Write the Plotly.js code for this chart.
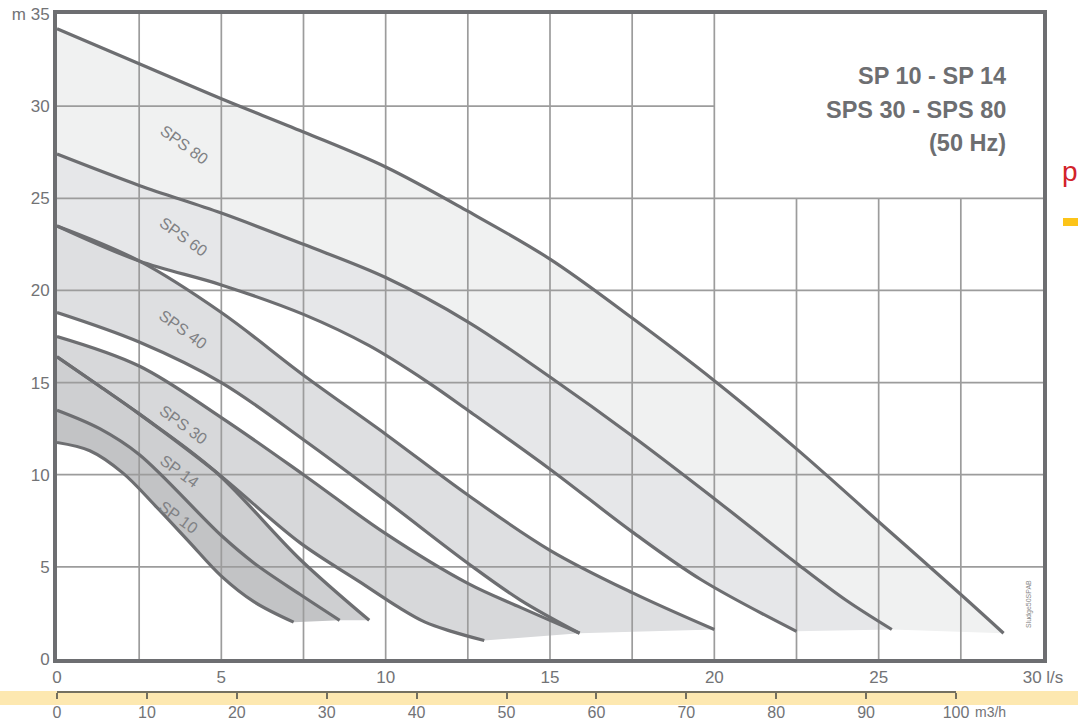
<!DOCTYPE html>
<html><head><meta charset="utf-8">
<script src="https://cdn.plot.ly/plotly-3.0.1.min.js"></script>
<style>html,body{margin:0;padding:0;background:#fff}#chart{width:1078px;height:722px}</style>
</head><body><div id="chart"></div>
<script>
// ---- Data: flow Q (l/s) and head H (m) ----
const sps80MaxQ = [0, 2.5, 5, 7.5, 10, 12.5, 15, 17.5, 20, 22.5, 25, 27.5, 28.8];
const sps80MaxH = [34.2, 32.3, 30.4, 28.6, 26.7, 24.3, 21.7, 18.5, 15.1, 11.4, 7.45, 3.5, 1.4];
const sps80MinQ = [0, 2.5, 5, 7.5, 10, 12.5, 15, 17.5, 20, 22.5, 24, 25.4];
const sps80MinH = [27.4, 25.7, 24.2, 22.5, 20.7, 18.3, 15.3, 12.1, 8.7, 5.2, 3.2, 1.6];
const sps60MaxQ = sps80MinQ;
const sps60MaxH = sps80MinH;
const sps60MinQ = [0, 2.5, 5, 7.5, 9.5, 11.3, 12.5, 15, 17.5, 19.6, 22.5];
const sps60MinH = [23.5, 21.6, 20.3, 18.7, 17.0, 15.0, 13.5, 10.3, 6.9, 4.3, 1.5];
const sps40MaxQ = [0, 2.5, 5, 7.5, 10, 12.5, 15, 17.5, 20];
const sps40MaxH = [23.5, 21.6, 18.8, 15.4, 12.2, 8.9, 5.9, 3.6, 1.6];
const sps40MinQ = [0, 2.5, 5, 7.5, 10, 12.5, 14.1, 15.9];
const sps40MinH = [18.8, 17.2, 15.0, 11.9, 8.6, 5.2, 3.2, 1.4];
const sps30MaxQ = [0, 2.5, 5, 7.5, 10, 12.5, 14.1, 15.9];
const sps30MaxH = [17.5, 15.9, 13.1, 10.0, 6.8, 4.1, 2.8, 1.4];
const sps30MinQ = [0, 1.3, 2.5, 4.8, 7.4, 9.2, 10.4, 11.2, 12.0, 13.0];
const sps30MinH = [16.4, 14.8, 13.3, 10.2, 6.3, 4.2, 2.8, 2.0, 1.5, 1.0];
const sp14MaxQ = [0, 1.3, 2.5, 4.8, 7.4, 9.5];
const sp14MaxH = [16.4, 14.8, 13.3, 10.2, 5.4, 2.1];
const sp14MinQ = [0, 1.3, 2.5, 5, 6, 7.4, 8.6];
const sp14MinH = [13.5, 12.5, 11.1, 6.7, 5.2, 3.5, 2.1];
const sp10MaxQ = sp14MinQ;
const sp10MaxH = sp14MinH;
const sp10MinQ = [0, 1, 2, 3, 4, 5, 6, 7.2];
const sp10MinH = [11.75, 11.3, 10.1, 8.3, 6.4, 4.5, 3.1, 2.0];

const pumpNames = ['SPS 80', 'SPS 60', 'SPS 40', 'SPS 30', 'SP 14', 'SP 10'];

// ---- Axis ticks ----
const qTicks = [0, 5, 10, 15, 20, 25, 30];
const qTickText = ['0', '5', '10', '15', '20', '25', '30 l/s'];
const hTicks = [0, 5, 10, 15, 20, 25, 30, 35];
const hTickText = ['0', '5', '10', '15', '20', '25', '30', 'm 35'];
const m3hTicks = [0, 10, 20, 30, 40, 50, 60, 70, 80, 90, 100];
const m3hTickText = ['0', '10', '20', '30', '40', '50', '60', '70', '80', '90', '100'];
const gridQ = [2.5, 5, 7.5, 10, 12.5, 15, 17.5, 20, 22.5, 25, 27.5];
const gridH = [5, 10, 15, 20, 25, 30];

// ---- Styles ----
const bandColors = ['#f0f1f1', '#e6e7e9', '#dedfe1', '#d7d8da', '#cecfd1', '#c2c3c5'];
const curveColor = '#6d6e71';
const gridColor = '#9c9c9c';
const textGrey = '#727376';
const FONT = '"Liberation Sans", Arial, Helvetica, sans-serif';

const bands = [
  [sps80MaxQ, sps80MaxH, sps80MinQ, sps80MinH],
  [sps60MaxQ, sps60MaxH, sps60MinQ, sps60MinH],
  [sps40MaxQ, sps40MaxH, sps40MinQ, sps40MinH],
  [sps30MaxQ, sps30MaxH, sps30MinQ, sps30MinH],
  [sp14MaxQ, sp14MaxH, sp14MinQ, sp14MinH],
  [sp10MaxQ, sp10MaxH, sp10MinQ, sp10MinH]
];

const traces = [];
// band fills
bands.forEach((b, i) => {
  traces.push({x: b[2], y: b[3], mode: 'lines', line: {width: 0, shape: 'spline', smoothing: 1},
    hoverinfo: 'skip', showlegend: false});
  traces.push({x: b[0], y: b[1], mode: 'lines', line: {width: 0, shape: 'spline', smoothing: 1},
    fill: 'tonexty', fillcolor: bandColors[i], hoverinfo: 'skip', showlegend: false, name: pumpNames[i]});
});
// grid (no grid inside the title box: Q > 20 and H > 25)
const gx = [], gy = [];
gridQ.forEach(q => { gx.push(q, q, null); gy.push(0, q > 20 ? 25 : 35, null); });
gridH.forEach(h => { gx.push(0, h > 25 ? 20 : 30, null); gy.push(h, h, null); });
traces.push({x: gx, y: gy, mode: 'lines', line: {color: gridColor, width: 1.7},
  hoverinfo: 'skip', showlegend: false, connectgaps: false});
// curves
const curves = [
  [sps80MaxQ, sps80MaxH], [sps80MinQ, sps80MinH], [sps60MinQ, sps60MinH],
  [sps40MaxQ, sps40MaxH], [sps40MinQ, sps40MinH], [sps30MaxQ, sps30MaxH],
  [sps30MinQ, sps30MinH], [sp14MaxQ, sp14MaxH], [sp14MinQ, sp14MinH], [sp10MinQ, sp10MinH]
];
curves.forEach(c => traces.push({x: c[0], y: c[1], mode: 'lines',
  line: {color: curveColor, width: 3.2, shape: 'spline', smoothing: 1},
  hoverinfo: 'skip', showlegend: false}));
// secondary m3/h axis carrier
traces.push({x: [0], y: [null], xaxis: 'x2', yaxis: 'y', mode: 'lines', hoverinfo: 'skip', showlegend: false});

// ---- Layout geometry (px -> paper) ----
const W = 1078, H = 722, mL = 57, mR = 35, mT = 14, mB = 30;
const pw = W - mL - mR, ph = H - mT - mB;
const px = v => (v - mL) / pw;
const py = v => (H - mB - v) / ph;

const labelPos = [[3.86, 27.9], [3.83, 22.9], [3.83, 17.9], [3.83, 12.7], [3.74, 10.2], [3.71, 7.7]];
const annotations = pumpNames.map((n, i) => ({
  x: labelPos[i][0], y: labelPos[i][1], xref: 'x', yref: 'y', text: n, showarrow: false,
  textangle: 36, font: {family: FONT, size: 16, color: '#808184'}
}));
[['SP 10 - SP 14', 76], ['SPS 30 - SPS 80', 110], ['(50 Hz)', 143]].forEach(t => annotations.push({
  x: px(1008), y: py(t[1]), xref: 'paper', yref: 'paper', xanchor: 'right', yanchor: 'middle',
  text: '<b>' + t[0] + '</b>', showarrow: false, font: {family: FONT, size: 23.5, color: '#6d6e71'}
}));
annotations.push({x: px(973), y: py(712), xref: 'paper', yref: 'paper', xanchor: 'left', yanchor: 'middle',
  text: 'm3/h', showarrow: false, font: {family: FONT, size: 14, color: textGrey}});
annotations.push({x: px(1035), y: py(630), xref: 'paper', yref: 'paper', text: 'Sludge50SPAB',
  showarrow: false, textangle: -90, font: {family: FONT, size: 7, color: '#8a8a8a'}});
annotations.push({x: px(1060), y: py(172), xref: 'paper', yref: 'paper', xanchor: 'left', yanchor: 'middle',
  text: 'p', showarrow: false, font: {family: FONT, size: 28, color: '#d2232a'}});

const shapes = [
  {type: 'rect', xref: 'paper', yref: 'paper', x0: px(0), x1: px(W), y0: py(705), y1: py(691),
   fillcolor: '#fde8b0', line: {width: 0}, layer: 'below'},
  {type: 'rect', xref: 'paper', yref: 'paper', x0: px(1063), x1: px(W + 5), y0: py(226), y1: py(218),
   fillcolor: '#fcc419', line: {width: 0}, layer: 'above'}
];

const axisFont = {family: FONT, size: 17, color: textGrey};
const layout = {
  width: W, height: H,
  margin: {l: mL, r: mR, t: mT, b: mB, pad: 0},
  paper_bgcolor: '#ffffff', plot_bgcolor: 'rgba(0,0,0,0)',
  showlegend: false, hovermode: false,
  xaxis: {range: [0, 30], tickvals: qTicks, ticktext: qTickText, showgrid: false, zeroline: false,
    showline: true, mirror: true, linecolor: curveColor, linewidth: 4, ticks: '', tickfont: axisFont,
    fixedrange: true, anchor: 'y'},
  yaxis: {range: [0, 35], domain: [py(659), 1], tickvals: hTicks, ticktext: hTickText, showgrid: false,
    zeroline: false, showline: true, mirror: true, linecolor: curveColor, linewidth: 4, ticks: '',
    tickfont: axisFont, fixedrange: true},
  xaxis2: {range: [0, 100], domain: [0, px(956)], anchor: 'free', position: 0, side: 'bottom',
    tickvals: m3hTicks, ticktext: m3hTickText, showgrid: false, zeroline: false, showline: true,
    linecolor: '#74705f', linewidth: 2, ticks: 'outside', ticklen: 6, tickwidth: 2, tickcolor: '#74705f',
    tickfont: {family: FONT, size: 16, color: textGrey}, fixedrange: true},
  annotations: annotations,
  shapes: shapes
};

Plotly.newPlot('chart', traces, layout, {displayModeBar: false, staticPlot: true});
</script>
</body></html>
